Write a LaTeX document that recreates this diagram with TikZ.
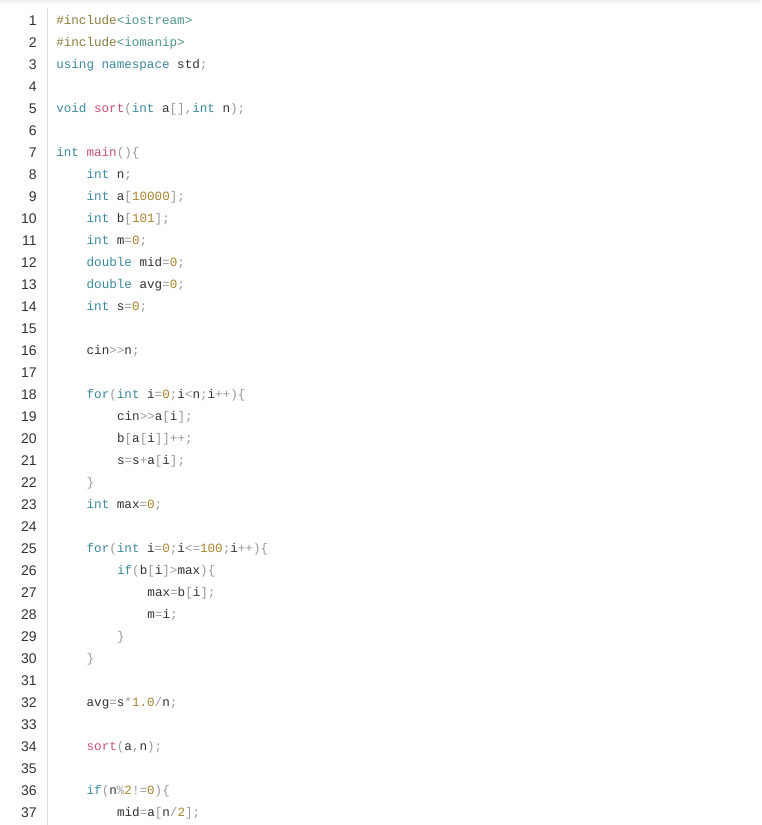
\documentclass[tikz,border=0pt]{standalone}
\usepackage{fontspec}
\setmainfont{Liberation Sans}
\setmonofont{Liberation Mono}
\definecolor{kw}{HTML}{3C8A9E}
\definecolor{pu}{HTML}{9A9A9A}
\definecolor{nm}{HTML}{A8842C}
\definecolor{fn}{HTML}{C75470}
\definecolor{inc}{HTML}{8A7B3C}
\definecolor{st}{HTML}{4E9686}
\definecolor{tx}{HTML}{333333}
\newcommand\kw[1]{\textcolor{kw}{#1}}
\newcommand\pu[1]{\textcolor{pu}{#1}}
\newcommand\nm[1]{\textcolor{nm}{#1}}
\newcommand\fn[1]{\textcolor{fn}{#1}}
\newcommand\incd[1]{\textcolor{inc}{#1}}
\newcommand\strg[1]{\textcolor{st}{#1}}
\begin{document}
\begin{tikzpicture}[x=0.75pt,y=-0.75pt,
  code/.style={anchor=base west,inner sep=0pt,font=\ttfamily\fontsize{9.45pt}{11pt}\selectfont,text=tx},
  lnum/.style={anchor=base east,inner sep=0pt,font=\fontsize{10.5pt}{12pt}\selectfont,text=tx}]
\fill[white] (0,0) rectangle (761,825);
\useasboundingbox (0,0) rectangle (761,825);
\fill[black!5] (0,0) rectangle (761,3);
\draw[black!15,line width=0.75pt] (47,8) -- (47,825);
\foreach \k in {1,...,37} {
  \node[lnum] (n\k) at (37,{20+22*(\k-1)+5}) {\k};
}
\def\L#1#2{20+22*(#1-1)+4.5}
\node[code] (l1) at (56,{\L{1}0}) {\incd{\#include}\strg{<iostream>}};
\node[code] (l2) at (56,{\L{2}0}) {\incd{\#include}\strg{<iomanip>}};
\node[code] (l3) at (56,{\L{3}0}) {\kw{using} \kw{namespace} std\pu{;}};
\node[code] (l5) at (56,{\L{5}0}) {\kw{void} \fn{sort}\pu{(}\kw{int} a\pu{[],}\kw{int} n\pu{);}};
\node[code] (l7) at (56,{\L{7}0}) {\kw{int} \fn{main}\pu{()\{}};
\node[code] (l8) at (86.4,{\L{8}0}) {\kw{int} n\pu{;}};
\node[code] (l9) at (86.4,{\L{9}0}) {\kw{int} a\pu{[}\nm{10000}\pu{];}};
\node[code] (l10) at (86.4,{\L{10}0}) {\kw{int} b\pu{[}\nm{101}\pu{];}};
\node[code] (l11) at (86.4,{\L{11}0}) {\kw{int} m\pu{=}\nm{0}\pu{;}};
\node[code] (l12) at (86.4,{\L{12}0}) {\kw{double} mid\pu{=}\nm{0}\pu{;}};
\node[code] (l13) at (86.4,{\L{13}0}) {\kw{double} avg\pu{=}\nm{0}\pu{;}};
\node[code] (l14) at (86.4,{\L{14}0}) {\kw{int} s\pu{=}\nm{0}\pu{;}};
\node[code] (l16) at (86.4,{\L{16}0}) {cin\pu{>>}n\pu{;}};
\node[code] (l18) at (86.4,{\L{18}0}) {\kw{for}\pu{(}\kw{int} i\pu{=}\nm{0}\pu{;}i\pu{<}n\pu{;}i\pu{++)\{}};
\node[code] (l19) at (116.8,{\L{19}0}) {cin\pu{>>}a\pu{[}i\pu{];}};
\node[code] (l20) at (116.8,{\L{20}0}) {b\pu{[}a\pu{[}i\pu{]]++;}};
\node[code] (l21) at (116.8,{\L{21}0}) {s\pu{=}s\pu{+}a\pu{[}i\pu{];}};
\node[code] (l22) at (86.4,{\L{22}0}) {\pu{\}}};
\node[code] (l23) at (86.4,{\L{23}0}) {\kw{int} max\pu{=}\nm{0}\pu{;}};
\node[code] (l25) at (86.4,{\L{25}0}) {\kw{for}\pu{(}\kw{int} i\pu{=}\nm{0}\pu{;}i\pu{<=}\nm{100}\pu{;}i\pu{++)\{}};
\node[code] (l26) at (116.8,{\L{26}0}) {\kw{if}\pu{(}b\pu{[}i\pu{]>}max\pu{)\{}};
\node[code] (l27) at (147.2,{\L{27}0}) {max\pu{=}b\pu{[}i\pu{];}};
\node[code] (l28) at (147.2,{\L{28}0}) {m\pu{=}i\pu{;}};
\node[code] (l29) at (116.8,{\L{29}0}) {\pu{\}}};
\node[code] (l30) at (86.4,{\L{30}0}) {\pu{\}}};
\node[code] (l32) at (86.4,{\L{32}0}) {avg\pu{=}s\pu{*}\nm{1.0}\pu{/}n\pu{;}};
\node[code] (l34) at (86.4,{\L{34}0}) {\fn{sort}\pu{(}a\pu{,}n\pu{);}};
\node[code] (l36) at (86.4,{\L{36}0}) {\kw{if}\pu{(}n\pu{\%}\nm{2}\pu{!=}\nm{0}\pu{)\{}};
\node[code] (l37) at (116.8,{\L{37}0}) {mid\pu{=}a\pu{[}n\pu{/}\nm{2}\pu{];}};
\end{tikzpicture}
\end{document}
